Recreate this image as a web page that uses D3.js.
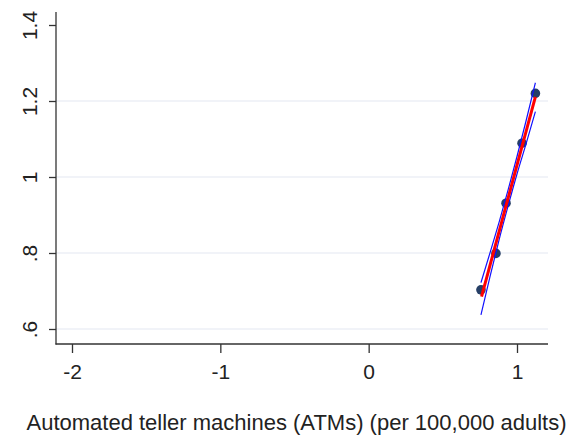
<!DOCTYPE html>
<html>
<head>
<meta charset="utf-8">
<script src="https://cdn.jsdelivr.net/npm/d3@7"></script>
<style>
  html, body { margin: 0; padding: 0; background: #fff; }
  svg { display: block; }
  text { font-family: "Liberation Sans", Arial, sans-serif; fill: #222; }
</style>
</head>
<body>
<svg id="chart" width="569" height="441"></svg>
<script>
// Data
const pointX = [0.757, 0.858, 0.926, 1.034, 1.124];
const pointY = [0.703, 0.799, 0.931, 1.089, 1.220];

const fitX = [0.761, 1.124];
const fitY = [0.685, 1.211];

const ciX     = [0.757, 0.82, 0.88, 0.94, 1.00, 1.06, 1.124];
const ciUpper = [0.722, 0.803, 0.882, 0.966, 1.054, 1.146, 1.248];
const ciLower = [0.637, 0.741, 0.836, 0.924, 1.008, 1.086, 1.172];

const xTicks = [-2, -1, 0, 1];
const xTickLabels = ["-2", "-1", "0", "1"];
const yTicks = [0.6, 0.8, 1.0, 1.2, 1.4];
const yTickLabels = [".6", ".8", "1", "1.2", "1.4"];
const yGrid = [0.6, 0.8, 1.0, 1.2];
const xTitle = "Automated teller machines (ATMs) (per 100,000 adults)";

const svg = d3.select("#chart");

const x = d3.scaleLinear().domain([-2, 1]).range([72, 517]);
const y = d3.scaleLinear().domain([0.6, 1.4]).range([329, 25]);

const plotLeft = 56, plotRight = 548, plotTop = 12, plotBottom = 344;

// grid lines
svg.append("g").selectAll("line").data(yGrid).join("line")
  .attr("x1", plotLeft).attr("x2", plotRight)
  .attr("y1", d => y(d)).attr("y2", d => y(d))
  .attr("stroke", "#e3e8f2").attr("stroke-width", 1.2);

// x axis
const xAxis = d3.axisBottom(x).tickValues(xTicks)
  .tickFormat((d, i) => xTickLabels[i]).tickSize(9).tickPadding(6);
const gx = svg.append("g").attr("transform", `translate(0,${plotBottom})`).call(xAxis);
gx.select(".domain").remove();
gx.selectAll(".tick line").attr("stroke", "#333").attr("stroke-width", 1.3);
gx.selectAll(".tick text").attr("font-size", 21).attr("fill", "#222")
  .attr("font-family", "Liberation Sans, Arial, sans-serif").attr("dy", "0.95em");
svg.append("line").attr("x1", plotLeft - 0.5).attr("x2", plotRight)
  .attr("y1", plotBottom).attr("y2", plotBottom)
  .attr("stroke", "#333").attr("stroke-width", 1.3);

// y axis
const yAxis = d3.axisLeft(y).tickValues(yTicks)
  .tickFormat((d, i) => yTickLabels[i]).tickSize(7).tickPadding(6);
const gy = svg.append("g").attr("transform", `translate(${plotLeft},0)`).call(yAxis);
gy.select(".domain").remove();
gy.selectAll(".tick line").attr("stroke", "#333").attr("stroke-width", 1.3);
gy.selectAll(".tick text")
  .attr("font-size", 21).attr("fill", "#222")
  .attr("font-family", "Liberation Sans, Arial, sans-serif")
  .attr("text-anchor", "middle")
  .attr("x", null).attr("dy", null)
  .attr("transform", "translate(-19,0) rotate(-90)")
  .attr("y", 0);
svg.append("line").attr("x1", plotLeft).attr("x2", plotLeft)
  .attr("y1", plotTop).attr("y2", plotBottom + 0.5)
  .attr("stroke", "#333").attr("stroke-width", 1.3);

// markers
const pts = pointX.map((d, i) => [d, pointY[i]]);
svg.append("g").selectAll("circle").data(pts).join("circle")
  .attr("cx", d => x(d[0])).attr("cy", d => y(d[1])).attr("r", 4.8)
  .attr("fill", "#263f66");

// CI lines
const ciLine = d3.line().x(d => x(d[0])).y(d => y(d[1])).curve(d3.curveMonotoneX);
svg.append("path").datum(ciX.map((d, i) => [d, ciUpper[i]]))
  .attr("d", ciLine).attr("fill", "none").attr("stroke", "#1010ff").attr("stroke-width", 1.2);
svg.append("path").datum(ciX.map((d, i) => [d, ciLower[i]]))
  .attr("d", ciLine).attr("fill", "none").attr("stroke", "#1010ff").attr("stroke-width", 1.2);

// fit line
svg.append("path").datum(fitX.map((d, i) => [d, fitY[i]]))
  .attr("d", d3.line().x(d => x(d[0])).y(d => y(d[1])))
  .attr("fill", "none").attr("stroke", "#ff0000").attr("stroke-width", 3);

// x title
svg.append("text").attr("x", 296.5).attr("y", 430)
  .attr("text-anchor", "middle").attr("font-size", 22)
  .text(xTitle);
</script>
</body>
</html>
